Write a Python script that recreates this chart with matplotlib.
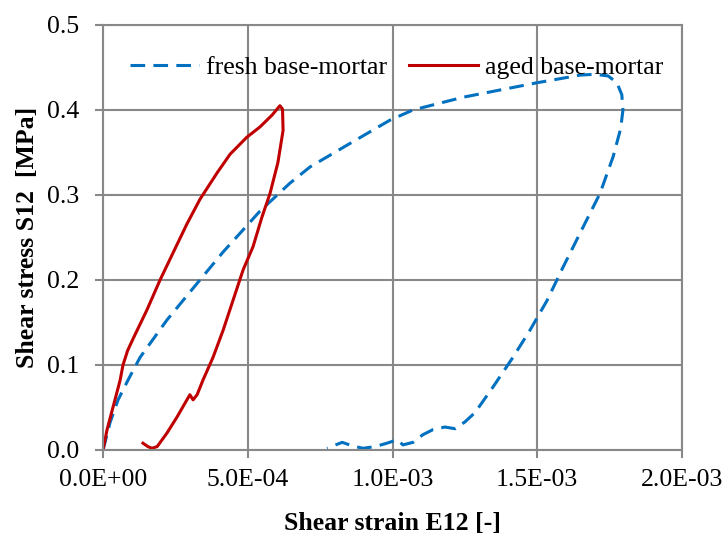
import matplotlib
matplotlib.use("Agg")
import matplotlib.pyplot as plt
from matplotlib.ticker import FuncFormatter

# fresh base-mortar (strain, stress)
fresh_x = [0.0, 0.007e-3, 0.024e-3, 0.052e-3, 0.086e-3, 0.128e-3, 0.221e-3, 0.325e-3,
           0.415e-3, 0.484e-3, 0.542e-3, 0.646e-3, 0.715e-3, 0.85e-3, 0.991e-3, 1.071e-3,
           1.244e-3, 1.499e-3, 1.648e-3, 1.70e-3, 1.745e-3, 1.775e-3, 1.792e-3, 1.796e-3,
           1.788e-3, 1.762e-3, 1.717e-3, 1.658e-3, 1.589e-3, 1.534e-3, 1.475e-3, 1.416e-3,
           1.347e-3, 1.285e-3, 1.250e-3, 1.216e-3, 1.181e-3, 1.140e-3, 1.105e-3, 1.071e-3,
           1.036e-3, 1.016e-3, 0.981e-3, 0.940e-3, 0.898e-3, 0.860e-3, 0.826e-3, 0.774e-3]
fresh_y = [0.0, 0.009, 0.032, 0.059, 0.082, 0.109, 0.153, 0.196,
           0.233, 0.259, 0.281, 0.314, 0.333, 0.360, 0.388, 0.400,
           0.415, 0.432, 0.441, 0.442, 0.440, 0.432, 0.418, 0.400,
           0.378, 0.345, 0.302, 0.262, 0.215, 0.176, 0.141, 0.109,
           0.074, 0.044, 0.033, 0.025, 0.027, 0.024, 0.018, 0.009,
           0.006, 0.012, 0.008, 0.004, 0.002, 0.005, 0.009, 0.002]

# aged base-mortar (strain, stress)
aged_x = [0.0, 0.014e-3, 0.035e-3, 0.059e-3, 0.069e-3, 0.085e-3, 0.104e-3, 0.152e-3,
          0.197e-3, 0.242e-3, 0.290e-3, 0.335e-3, 0.394e-3, 0.439e-3, 0.497e-3, 0.542e-3,
          0.584e-3, 0.611e-3, 0.620e-3, 0.622e-3, 0.604e-3, 0.577e-3, 0.549e-3, 0.518e-3,
          0.484e-3, 0.449e-3, 0.415e-3, 0.380e-3, 0.345e-3, 0.325e-3, 0.311e-3, 0.300e-3,
          0.283e-3, 0.256e-3, 0.221e-3, 0.187e-3, 0.169e-3, 0.155e-3, 0.138e-3]
aged_y = [0.0, 0.024, 0.051, 0.082, 0.100, 0.117, 0.131, 0.165,
          0.200, 0.232, 0.266, 0.295, 0.326, 0.348, 0.368, 0.380,
          0.394, 0.405, 0.401, 0.376, 0.338, 0.302, 0.274, 0.239,
          0.212, 0.176, 0.141, 0.109, 0.082, 0.065, 0.059, 0.065,
          0.055, 0.039, 0.020, 0.004, 0.002, 0.004, 0.008]

x_ticks = [0.0, 0.5e-3, 1.0e-3, 1.5e-3, 2.0e-3]
y_ticks = [0.0, 0.1, 0.2, 0.3, 0.4, 0.5]

plt.rcParams['font.family'] = ['Liberation Serif', 'DejaVu Serif']

fig = plt.figure(figsize=(7.24, 5.38), dpi=100)
ax = fig.add_axes([0.1423, 0.1636, 0.7997, 0.79])

ax.plot(fresh_x, fresh_y, color='#0070C0', lw=2.2, dashes=(4.8, 2.7),
        label='fresh base-mortar')
ax.plot(aged_x, aged_y, color='#C00000', lw=2.2, label='aged base-mortar',
        solid_joinstyle='round')

ax.set_xlim(0, 2.0e-3)
ax.set_ylim(0, 0.5)
ax.set_xticks(x_ticks)
ax.set_yticks(y_ticks)
ax.xaxis.set_major_formatter(FuncFormatter(lambda v, p: f"{v:.1E}"))
ax.yaxis.set_major_formatter(FuncFormatter(lambda v, p: f"{v:.1f}"))
ax.tick_params(labelsize=18.5, color='#888888', length=6, width=1.5)
ax.tick_params(axis='x', pad=8)
ax.tick_params(axis='y', pad=11)
ax.grid(True, color='#888888', lw=1.5)
ax.set_axisbelow(True)
for s in ax.spines.values():
    s.set_color('#888888')
    s.set_linewidth(1.5)

ax.set_xlabel('Shear strain E12 [-]', fontsize=18.5, fontweight='bold', labelpad=15)
ax.set_ylabel('Shear stress S12  [MPa]', fontsize=18.5, fontweight='bold', labelpad=6)

ax.legend(loc='center', bbox_to_anchor=(0.507, 0.899), ncol=2, frameon=False,
          fontsize=18.5, handlelength=2.7, columnspacing=0.85, handletextpad=0.27,
          borderaxespad=0)

plt.savefig('out.png', dpi=100)
